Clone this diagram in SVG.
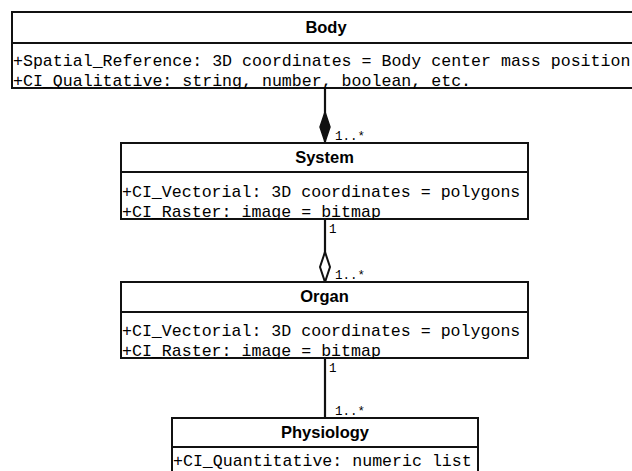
<svg xmlns="http://www.w3.org/2000/svg" width="632" height="471" viewBox="0 0 632 471">
<style>
.box{fill:#fff;stroke:#111;stroke-width:2}
.div{stroke:#111;stroke-width:2}
.hd{font-family:"Liberation Sans",Arial,sans-serif;font-weight:bold;font-size:16.5px;text-anchor:middle;fill:#000}
.at{font-family:"Liberation Mono","Courier New",monospace;font-size:16.6px;fill:#000}
.lb{font-family:"Liberation Mono","Courier New",monospace;font-size:12.5px;fill:#000}
.ln{stroke:#111;stroke-width:2.2;fill:none}
</style>
<g id="connectors">
<line class="ln" x1="325" y1="88" x2="325" y2="143"/>
<polygon points="325,112 330,127 325,142 320,127" fill="#111" stroke="#111" stroke-width="1.5"/>
<text class="lb" x="335" y="140">1..*</text>
<line class="ln" x1="325" y1="219" x2="325" y2="282"/>
<polygon points="325,252 330,267 325,282 320,267" fill="#fff" stroke="#111" stroke-width="2"/>
<text class="lb" x="329" y="233">1</text>
<text class="lb" x="335" y="279">1..*</text>
<line class="ln" x1="325" y1="358" x2="325" y2="418"/>
<text class="lb" x="329" y="372">1</text>
<text class="lb" x="335" y="415">1..*</text>
</g>
<g id="body">
<rect class="box" x="12" y="12" width="630" height="76"/>
<line class="div" x1="12" y1="43" x2="642" y2="43"/>
<text class="hd" x="326" y="33">Body</text>
<text class="at" x="13" y="66">+Spatial_Reference: 3D coordinates = Body center mass position</text>
<text class="at" x="13" y="86">+CI_Qualitative: string, number, boolean, etc.</text>
</g>
<g id="system">
<rect class="box" x="121" y="143" width="407" height="76"/>
<line class="div" x1="121" y1="172" x2="528" y2="172"/>
<text class="hd" x="324.5" y="163">System</text>
<text class="at" x="122" y="197">+CI_Vectorial: 3D coordinates = polygons</text>
<text class="at" x="122" y="217">+CI_Raster: image = bitmap</text>
</g>
<g id="organ">
<rect class="box" x="121" y="282" width="407" height="76"/>
<line class="div" x1="121" y1="312" x2="528" y2="312"/>
<text class="hd" x="324.5" y="302">Organ</text>
<text class="at" x="122" y="336">+CI_Vectorial: 3D coordinates = polygons</text>
<text class="at" x="122" y="356">+CI_Raster: image = bitmap</text>
</g>
<g id="physiology">
<rect class="box" x="172" y="418" width="306" height="70"/>
<line class="div" x1="172" y1="447" x2="478" y2="447"/>
<text class="hd" x="325" y="438">Physiology</text>
<text class="at" x="173" y="466">+CI_Quantitative: numeric list</text>
</g>
</svg>
